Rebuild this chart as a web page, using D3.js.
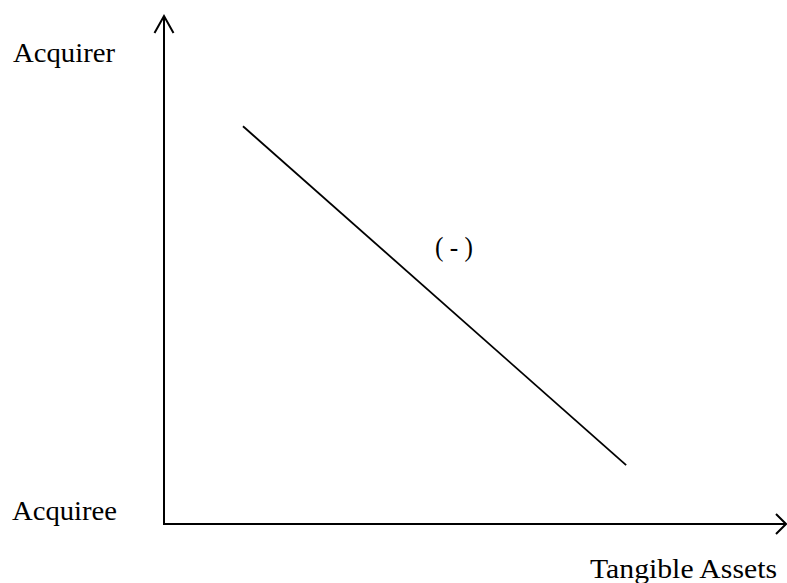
<!DOCTYPE html>
<html>
<head>
<meta charset="utf-8">
<script src="https://cdn.jsdelivr.net/npm/d3@7"></script>
<style>
  html, body { margin: 0; padding: 0; background: #fff; }
  svg { display: block; }
  text { font-family: "Liberation Serif", "Times New Roman", serif; fill: #000; }
</style>
</head>
<body>
<svg id="chart" width="787" height="583"></svg>
<script>
// Data (conceptual units 0..10 on each axis)
const lineX = [1.27, 7.43];
const lineY = [7.83, 1.16];
const yLabels = ["Acquirer", "Acquiree"];
const xLabel = "Tangible Assets";
const annotation = "( - )";

const svg = d3.select("#chart");
const x = d3.scaleLinear().domain([0, 10]).range([164, 786]);
const y = d3.scaleLinear().domain([0, 10]).range([524, 16]);

// Axes
const axisColor = "#000";
svg.append("line").attr("x1", x(0)).attr("y1", y(0) + 1).attr("x2", x(0)).attr("y2", y(10))
  .attr("stroke", axisColor).attr("stroke-width", 2);
svg.append("line").attr("x1", x(0) - 1).attr("y1", y(0)).attr("x2", x(10)).attr("y2", y(0))
  .attr("stroke", axisColor).attr("stroke-width", 2);

// Open arrowheads
svg.append("path")
  .attr("d", `M${x(0) - 9.5},${y(10) + 17} L${x(0)},${y(10)} L${x(0) + 9.5},${y(10) + 17}`)
  .attr("fill", "none").attr("stroke", axisColor).attr("stroke-width", 2);
svg.append("path")
  .attr("d", `M${x(10) - 10},${y(0) - 10} L${x(10)},${y(0)} L${x(10) - 10},${y(0) + 10}`)
  .attr("fill", "none").attr("stroke", axisColor).attr("stroke-width", 2);

// Relationship line
const pts = lineX.map((d, i) => [d, lineY[i]]);
svg.append("path")
  .datum(pts)
  .attr("d", d3.line().x(d => x(d[0])).y(d => y(d[1])))
  .attr("fill", "none").attr("stroke", "#000").attr("stroke-width", 1.8);

// Labels
const fs = 27;
svg.append("text").attr("x", 13).attr("y", 62).attr("font-size", fs)
  .attr("textLength", 102).attr("lengthAdjust", "spacingAndGlyphs").text(yLabels[0]);
svg.append("text").attr("x", 12).attr("y", 520).attr("font-size", fs)
  .attr("textLength", 105).attr("lengthAdjust", "spacingAndGlyphs").text(yLabels[1]);
svg.append("text").attr("x", 590).attr("y", 578).attr("font-size", fs)
  .attr("textLength", 187).attr("lengthAdjust", "spacingAndGlyphs").text(xLabel);
svg.append("text").attr("x", 435).attr("y", 256).attr("font-size", fs)
  .attr("textLength", 38).attr("lengthAdjust", "spacingAndGlyphs").text(annotation);
</script>
</body>
</html>
